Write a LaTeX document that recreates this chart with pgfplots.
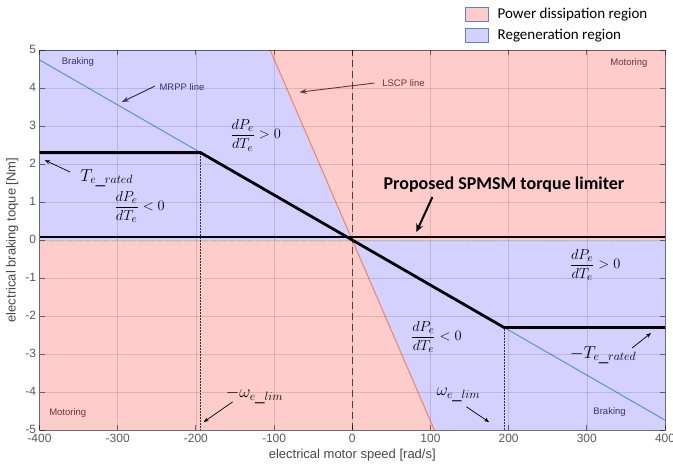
\documentclass[border=0pt]{standalone}
\usepackage{fontspec}
\setmainfont{Liberation Sans}
\newfontfamily\carlito{Carlito}
\usepackage{pgfplots}
\pgfplotsset{compat=1.18}
\usetikzlibrary{arrows.meta}
\definecolor{pinkfill}{RGB}{255,204,204}
\definecolor{bluefill}{RGB}{212,208,255}
\definecolor{mrpp}{RGB}{95,145,215}
\definecolor{lscp}{RGB}{235,140,110}
\definecolor{braktext}{RGB}{55,55,110}
\definecolor{mottext}{RGB}{115,50,50}
\definecolor{legedge}{RGB}{100,130,180}
\definecolor{zerodash}{RGB}{110,65,65}
\begin{document}
\begin{tikzpicture}
\begin{axis}[
  scale only axis, width=625.5pt, height=380pt,
  xmin=-400, xmax=400, ymin=-5, ymax=5,
  xtick={-400,-300,...,400}, ytick={-5,-4,...,5},
  grid=major, major grid style={black, opacity=0.12, line width=0.5pt},
  axis on top,
  axis line style={black, opacity=0.5, line width=0.8pt},
  tick style={black, opacity=0.5, line width=0.8pt},
  tick align=inside, major tick length=5pt,
  /pgf/number format/assume math mode=true,
  ticklabel style={font=\fontsize{12}{13}\selectfont, text=black!65},
  yticklabel style={yshift=1pt},
  xticklabel style={yshift=-0.5pt},
  xlabel={electrical motor speed [rad/s]},
  ylabel={electrical braking toque [Nm]},
  label style={font=\fontsize{13}{14}\selectfont, text=black!72},
  legend style={at={(rel axis cs:0.680,1.116)}, anchor=north west, draw=none, fill=none,
    inner sep=0pt, row sep=5pt, column sep=7pt, font=\carlito\fontsize{15}{16}\selectfont, cells={anchor=west}},
  legend image code/.code={\draw[#1, draw=legedge, line width=0.6pt] (0pt,-7pt) rectangle (23pt,7pt);},
]
\addplot[fill=pinkfill, draw=none] coordinates {(0,0) (-105,5) (400,5) (400,0)} -- cycle;
\addlegendentry{Power dissipation region}
\addplot[fill=bluefill, draw=none] coordinates {(-400,0) (-400,5) (-105,5) (0,0)} -- cycle;
\addlegendentry{Regeneration region}
\addplot[fill=pinkfill, draw=none, forget plot] coordinates {(-400,0) (-400,-5) (105,-5) (0,0)} -- cycle;
\addplot[fill=bluefill, draw=none, forget plot] coordinates {(0,0) (105,-5) (400,-5) (400,0)} -- cycle;
% LSCP and MRPP lines
\addplot[lscp, line width=1.1pt, forget plot] coordinates {(-105,5) (105,-5)};
\addplot[mrpp, line width=1pt, forget plot] coordinates {(-400,4.74) (400,-4.74)};
% dotted verticals
\addplot[black!80, densely dotted, line width=0.5pt, forget plot] coordinates {(-194,2.3) (-194,-5)};
\addplot[black!80, densely dotted, line width=0.5pt, forget plot] coordinates {(194,-2.3) (194,-5)};
% zero dashed lines
\addplot[gray!40, dash pattern=on 6pt off 3pt, line width=0.9pt, forget plot] coordinates {(-400,-0.03) (400,-0.03)};
\addplot[zerodash, dash pattern=on 7pt off 4pt, line width=1.3pt, forget plot] coordinates {(0,-5) (0,5)};
% torque limiter
\addplot[black, line width=2.8pt, forget plot] coordinates {(-400,2.3) (-194,2.3) (194,-2.3) (400,-2.3)};
\addplot[black, line width=2.6pt, forget plot] coordinates {(-400,0.08) (400,0.08)};

% annotations
\node[anchor=west, text=braktext, font=\fontsize{9.5}{10}\selectfont] at (axis cs:-376,4.68) {Braking};
\node[anchor=east, text=mottext, font=\fontsize{9.5}{10}\selectfont] at (axis cs:382,4.66) {Motoring};
\node[anchor=west, text=mottext, font=\fontsize{9.5}{10}\selectfont] at (axis cs:-392,-4.55) {Motoring};
\node[anchor=west, text=braktext, font=\fontsize{9.5}{10}\selectfont] at (axis cs:304,-4.53) {Braking};
\node[anchor=west, text=braktext, font=\fontsize{9.5}{10}\selectfont] at (axis cs:-251,4.03) {MRPP line};
\node[anchor=west, text=mottext, font=\fontsize{9.5}{10}\selectfont] at (axis cs:34,4.14) {LSCP line};
\draw[braktext, line width=1pt, -{Stealth[length=7pt,width=5pt]}] (axis cs:-252.5,4.05) -- (axis cs:-294.6,3.63);
\draw[mottext, line width=0.9pt, -{Stealth[length=7pt,width=5pt]}] (axis cs:28.4,4.13) -- (axis cs:-67.4,3.89);

\node[font=\carlito\bfseries\fontsize{18}{20}\selectfont] at (axis cs:194,1.45) {Proposed SPMSM torque limiter};
\draw[black, line width=2pt, -{Stealth[length=8pt,width=7pt]}] (axis cs:102.5,1.13) -- (axis cs:82,0.21);

\node[font=\fontsize{15}{17}\selectfont] at (axis cs:-123.5,2.76) {$\displaystyle\frac{dP_e}{dT_e}>0$};
\node[font=\fontsize{15}{17}\selectfont] at (axis cs:-272,0.87) {$\displaystyle\frac{dP_e}{dT_e}<0$};
\node[font=\fontsize{15}{17}\selectfont] at (axis cs:310.6,-0.66) {$\displaystyle\frac{dP_e}{dT_e}>0$};
\node[font=\fontsize{15}{17}\selectfont] at (axis cs:107.6,-2.55) {$\displaystyle\frac{dP_e}{dT_e}<0$};

\node[font=\fontsize{16.5}{18}\selectfont] at (axis cs:-314,1.63) {$T_{e\_rated}$};
\node[font=\fontsize{16.5}{18}\selectfont] at (axis cs:321,-3.03) {$-T_{e\_rated}$};
\node[font=\fontsize{16.5}{18}\selectfont] at (axis cs:-125,-4.1) {$-\omega_{e\_lim}$};
\node[font=\fontsize{16.5}{18}\selectfont] at (axis cs:135.7,-4.08) {$\omega_{e\_lim}$};
\draw[black, line width=0.7pt, -{Stealth[length=5pt,width=4pt]}] (axis cs:-361,1.79) -- (axis cs:-393,2.1);
\draw[black, line width=0.7pt, -{Stealth[length=5pt,width=4pt]}] (axis cs:358,-2.84) -- (axis cs:382,-2.45);
\draw[black, line width=0.7pt, -{Stealth[length=5pt,width=4pt]}] (axis cs:-153,-4.26) -- (axis cs:-190,-4.79);
\draw[black, line width=0.7pt, -{Stealth[length=5pt,width=4pt]}] (axis cs:146,-4.39) -- (axis cs:175,-4.79);
\end{axis}
\pgfresetboundingbox
\useasboundingbox ([xshift=-39.5pt,yshift=-42pt]current axis.south west) rectangle ([xshift=8pt,yshift=50pt]current axis.north east);
\end{tikzpicture}
\end{document}
